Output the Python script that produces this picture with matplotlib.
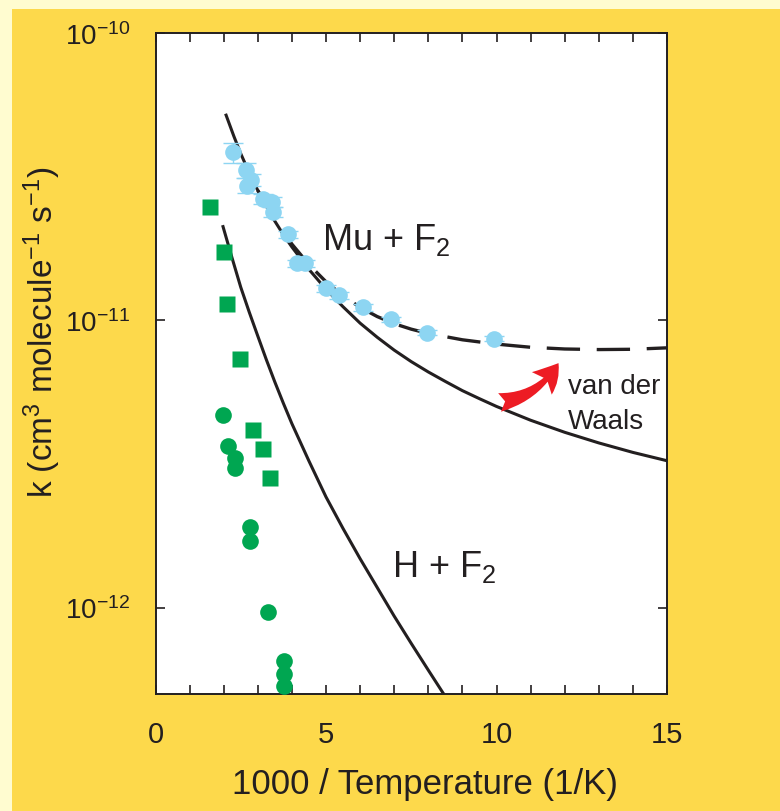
import matplotlib
matplotlib.use('Agg')
import matplotlib.pyplot as plt
import matplotlib.patches as mpatches
from matplotlib.ticker import MultipleLocator, FixedLocator, NullLocator

plt.rcParams['font.family'] = ['Liberation Sans', 'DejaVu Sans']
plt.rcParams['mathtext.default'] = 'regular'
plt.rcParams['axes.unicode_minus'] = False

# Mu + F2 measurements (x = 1000/T, k in cm3 molecule-1 s-1), error in percent
mu_x = [2.28, 2.65, 2.80, 2.67, 3.16, 3.41, 3.44, 3.89, 4.14, 4.38, 4.99, 5.39, 6.08, 6.90, 7.95, 9.94]
mu_k = [3.84e-11, 3.33e-11, 3.08e-11, 2.94e-11, 2.65e-11, 2.59e-11, 2.39e-11, 1.99e-11,
        1.58e-11, 1.58e-11, 1.29e-11, 1.22e-11, 1.11e-11, 1.01e-11, 9.06e-12, 8.63e-12]
mu_err = [8, 6, 5, 6, 4, 4, 4, 3, 3, 3, 3, 3, 3, 2, 2, 2]

# H + F2 measurements: squares and circles
h_sq_x = [1.61, 2.02, 2.11, 2.49, 2.87, 3.16, 3.37]
h_sq_k = [2.48e-11, 1.73e-11, 1.14e-11, 7.35e-12, 4.16e-12, 3.55e-12, 2.83e-12]
h_ci_x = [1.99, 2.14, 2.34, 2.34, 2.78, 2.78, 3.29, 3.77, 3.77, 3.77]
h_ci_k = [4.69e-12, 3.66e-12, 3.32e-12, 3.07e-12, 1.90e-12, 1.71e-12, 9.61e-13, 6.49e-13, 5.89e-13, 5.31e-13]

# curves (log10 k)
mu_fit_x = [2.07, 2.3, 2.5, 2.75, 3.0, 3.25, 3.5, 3.75, 4.0, 4.5, 5.0, 5.5, 6.0, 6.5, 7.0, 7.5,
            8.0, 8.5, 9.0, 9.5, 10.0, 11.0, 12.0, 13.0, 14.0, 15.0]
mu_fit_lg = [-10.286, -10.360, -10.420, -10.487, -10.548, -10.603, -10.655, -10.702, -10.745,
             -10.823, -10.892, -10.953, -11.010, -11.059, -11.104, -11.144, -11.180, -11.213,
             -11.245, -11.273, -11.300, -11.348, -11.390, -11.427, -11.460, -11.489]
vdw_x = [3.0, 3.5, 4.0, 4.5, 5.0, 5.5, 6.0, 6.5, 7.0, 7.5, 8.0, 9.0, 10.0, 11.0, 12.0, 13.0, 14.0, 15.0]
vdw_lg = [-10.548, -10.650, -10.735, -10.806, -10.866, -10.915, -10.955, -10.987, -11.012, -11.031,
          -11.046, -11.068, -11.083, -11.094, -11.100, -11.102, -11.101, -11.096]
h_fit_x = [1.98, 2.25, 2.5, 2.75, 3.0, 3.25, 3.5, 3.75, 4.0, 4.5, 5.0, 5.5, 6.0, 6.5, 7.0, 7.5, 8.0, 8.5]
h_fit_lg = [-10.674, -10.785, -10.885, -10.972, -11.055, -11.137, -11.215, -11.289, -11.36, -11.49,
            -11.615, -11.725, -11.83, -11.93, -12.03, -12.125, -12.218, -12.31]

y_ticks = [1e-12, 1e-11, 1e-10]
y_ticklabels = ['$10^{-12}$', '$10^{-11}$', '$10^{-10}$']

blue = '#8DD5F2'
green = '#00A651'
ink = '#231F20'

fig = plt.figure(figsize=(7.8, 8.12), dpi=100, facecolor='#FFFCD0')
fig.patches.append(mpatches.Rectangle((12/780, 0), 1, 1 - 10/812, transform=fig.transFigure,
                                      facecolor='#FDD94B', edgecolor='none', zorder=-10))

ax = fig.add_axes([155.5/780, 1 - 695/812, 511.5/780, 661/812])
ax.set_yscale('log')

# fitted curves
ax.plot(h_fit_x, [10**v for v in h_fit_lg], color=ink, lw=2.2, zorder=2)
ax.plot(mu_fit_x, [10**v for v in mu_fit_lg], color=ink, lw=2.2, zorder=2)
ax.plot(vdw_x, [10**v for v in vdw_lg], color=ink, lw=2.4, dashes=(10, 5), zorder=2)

# data
yerr = [k * e / 100 for k, e in zip(mu_k, mu_err)]
ax.errorbar(mu_x, mu_k, yerr=yerr, fmt='none', ecolor=blue, elinewidth=1.0, capsize=7, capthick=1.0, zorder=3)
ax.plot(mu_x, mu_k, 'o', color=blue, ms=12, mec='none', zorder=4)
ax.plot(h_sq_x, h_sq_k, 's', color=green, ms=11, mec='none', zorder=4)
ax.plot(h_ci_x, h_ci_k, 'o', color=green, ms=12, mec='none', zorder=4)

ax.set_xlim(0, 15)
ax.set_ylim(5e-13, 1e-10)
ax.xaxis.set_major_locator(MultipleLocator(5))
ax.xaxis.set_minor_locator(MultipleLocator(1))
ax.yaxis.set_major_locator(FixedLocator(y_ticks))
ax.set_yticklabels(y_ticklabels)
ax.yaxis.set_minor_locator(NullLocator())
ax.tick_params(which='both', direction='in', top=True, right=True, length=6.5, width=1.2, color=ink)
ax.tick_params(axis='x', labelsize=21, pad=19, labelcolor=ink)
ax.tick_params(axis='y', labelsize=20, pad=18, labelcolor=ink)
for s in ax.spines.values():
    s.set_linewidth(1.4)
    s.set_color(ink)

# labels
fig.text(424.5/780, 1 - 785/812, '1000 / Temperature (1/K)', fontsize=25, color=ink, ha='center', va='center')
fig.text(42/780, 1 - 332/812, 'k (cm$^3$ molecule$^{-1}$ s$^{-1}$)', fontsize=24, color=ink,
         rotation=90, ha='center', va='center')

ax.text(4.88, 1.766e-11, 'Mu + F$_2$', fontsize=26, color=ink, va='baseline')
ax.text(6.93, 1.287e-12, 'H + F$_2$', fontsize=26, color=ink, va='baseline')
ax.text(12.10, 5.58e-12, 'van der', fontsize=20, color=ink, va='baseline')
ax.text(12.08, 4.21e-12, 'Waals', fontsize=20, color=ink, va='baseline')

ax.annotate('', xy=(11.86, 7.23e-12), xytext=(10.01, 5.16e-12),
            arrowprops=dict(arrowstyle='fancy,head_length=0.7,head_width=0.8,tail_width=0.5',
                            connectionstyle='arc3,rad=0.25', color='#ED1C24', lw=0, mutation_scale=27))

fig.savefig('out.png', dpi=100, facecolor=fig.get_facecolor())
